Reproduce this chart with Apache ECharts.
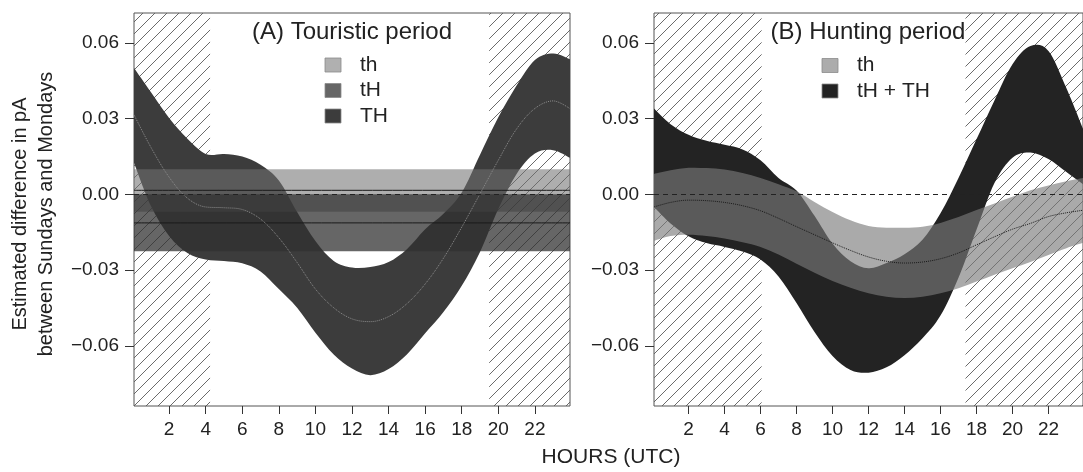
<!DOCTYPE html>
<html>
<head>
<meta charset="utf-8">
<script src="https://cdn.jsdelivr.net/npm/echarts@6/dist/echarts.min.js"></script>
<style>
  html, body { margin: 0; background: #fff; }
  #chart { width: 1083px; height: 472px; }
</style>
</head>
<body>
<div id="chart"></div>
<script>
const hours = [0.08, 1, 2, 3, 4, 5, 6, 7, 8, 9, 10, 11, 12, 13, 14, 15, 16, 17, 18, 19, 20, 21, 22, 23, 23.92]
const xMin = 0.08
const xMax = 23.92
const xTicks = [2, 4, 6, 8, 10, 12, 14, 16, 18, 20, 22]
const yTicks = [-0.06, -0.03, 0, 0.03, 0.06]

// (A) touristic period
const touristTHUpper = [0.050, 0.0405, 0.0302, 0.0220, 0.0160, 0.0160, 0.0150, 0.0117, 0.0055, -0.0070, -0.0185, -0.0264, -0.0290, -0.0288, -0.0268, -0.0217, -0.0138, -0.0077, 0.0007, 0.0157, 0.0305, 0.0431, 0.0532, 0.0558, 0.0535]
const touristTHLower = [0.0125, -0.0045, -0.0165, -0.0232, -0.0258, -0.0264, -0.0273, -0.0305, -0.0375, -0.0449, -0.0548, -0.0634, -0.0690, -0.0716, -0.0692, -0.0634, -0.0550, -0.0466, -0.0362, -0.0228, -0.0058, 0.0081, 0.0162, 0.0175, 0.0145]
const touristTHFit = [0.0315, 0.0187, 0.0068, -0.0015, -0.0050, -0.0053, -0.0060, -0.0098, -0.0172, -0.0270, -0.0375, -0.0449, -0.0493, -0.0504, -0.0484, -0.0433, -0.0355, -0.0253, -0.0130, 0.0002, 0.0135, 0.0259, 0.0340, 0.0370, 0.0339]
// constant effects: [upper, fit, lower]
const touristTh = [0.0099, 0.0016, -0.0069]
const touristTH2 = [0.0000, -0.0113, -0.0225]
const nightA = [[0.08, 4.24], [19.5, 23.92]]

// (B) hunting period
const huntTHUpper = [0.0340, 0.0278, 0.0236, 0.0212, 0.0196, 0.0178, 0.0135, 0.0065, 0.0015, -0.0085, -0.0195, -0.0265, -0.0293, -0.0272, -0.0237, -0.0180, -0.0075, 0.0065, 0.0218, 0.0372, 0.0515, 0.0587, 0.0568, 0.0420, 0.0260]
const huntTHLower = [-0.0050, -0.0115, -0.0166, -0.0193, -0.0208, -0.0226, -0.0258, -0.0325, -0.0430, -0.0545, -0.0640, -0.0695, -0.0706, -0.0685, -0.0637, -0.0570, -0.0480, -0.0330, -0.0140, 0.0045, 0.0145, 0.0166, 0.0140, 0.0088, 0.0040]
const huntThUpper = [0.0081, 0.0095, 0.0105, 0.0104, 0.0098, 0.0085, 0.0065, 0.0040, 0.0012, -0.0030, -0.0070, -0.0103, -0.0125, -0.0132, -0.0132, -0.0128, -0.0113, -0.0090, -0.0062, -0.0036, -0.0010, 0.0016, 0.0035, 0.0052, 0.0065]
const huntThLower = [-0.0184, -0.0165, -0.0160, -0.0165, -0.0175, -0.0190, -0.0208, -0.0238, -0.0275, -0.0310, -0.0343, -0.0370, -0.0392, -0.0405, -0.0410, -0.0405, -0.0392, -0.0372, -0.0345, -0.0318, -0.0293, -0.0268, -0.0240, -0.0213, -0.0192]
const huntThFit = [-0.0050, -0.0032, -0.0023, -0.0025, -0.0032, -0.0045, -0.0065, -0.0095, -0.0128, -0.0160, -0.0192, -0.0222, -0.0248, -0.0265, -0.0272, -0.0268, -0.0255, -0.0232, -0.0200, -0.0168, -0.0138, -0.0115, -0.0088, -0.0073, -0.0063]
const nightB = [[0.08, 6.06], [17.39, 23.92]]

const font = "'Liberation Sans', Arial, sans-serif"

function makeHatch() {
  const c = document.createElement("canvas")
  c.width = 12
  c.height = 12
  const ctx = c.getContext("2d")
  ctx.strokeStyle = "#5a5a5a"
  ctx.lineWidth = 0.9
  ctx.beginPath()
  for (const o of [-12, 0, 12]) {
    ctx.moveTo(o, 12)
    ctx.lineTo(o + 12, 0)
  }
  ctx.stroke()
  return c
}
const hatch = { image: makeHatch(), repeat: "repeat" }

function pairs(xs, ys) {
  return xs.map((x, i) => [x, ys[i]])
}

// catmull-rom through pixel points, as svg path segments (no leading M)
function curve(pts) {
  let d = ""
  for (let i = 0; i < pts.length - 1; i++) {
    const p0 = pts[Math.max(i - 1, 0)]
    const p1 = pts[i]
    const p2 = pts[i + 1]
    const p3 = pts[Math.min(i + 2, pts.length - 1)]
    const c1 = [p1[0] + (p2[0] - p0[0]) / 6, p1[1] + (p2[1] - p0[1]) / 6]
    const c2 = [p2[0] - (p3[0] - p1[0]) / 6, p2[1] - (p3[1] - p1[1]) / 6]
    d += " C" + c1[0] + "," + c1[1] + " " + c2[0] + "," + c2[1] + " " + p2[0] + "," + p2[1]
  }
  return d
}

// filled confidence band between lower and upper
function band(grid, xs, lower, upper, color) {
  return {
    type: "custom",
    xAxisIndex: grid,
    yAxisIndex: grid,
    silent: true,
    clip: true,
    animation: false,
    data: [[xs[0], lower[0]]],
    renderItem: (params, api) => {
      const top = xs.map((x, i) => api.coord([x, upper[i]]))
      const bot = xs.map((x, i) => api.coord([x, lower[i]])).reverse()
      const d = "M" + top[0][0] + "," + top[0][1] + curve(top) +
        " L" + bot[0][0] + "," + bot[0][1] + curve(bot) + " Z"
      return { type: "path", shape: { pathData: d }, style: { fill: color } }
    }
  }
}

function fitLine(grid, xs, ys, color, type) {
  return {
    type: "line",
    xAxisIndex: grid,
    yAxisIndex: grid,
    data: pairs(xs, ys),
    smooth: 0.35,
    symbol: "none",
    silent: true,
    animation: false,
    lineStyle: { color: color, width: 1, type: type }
  }
}

function withMarkers(s, night) {
  s.markArea = {
    silent: true,
    itemStyle: { color: hatch },
    label: { show: false },
    data: night.map((r) => [{ xAxis: r[0] }, { xAxis: r[1] }])
  }
  s.markLine = {
    silent: true,
    symbol: "none",
    label: { show: false },
    lineStyle: { color: "#222", width: 1, type: [5, 4] },
    data: [{ yAxis: 0 }]
  }
  return s
}

const flatX = [xMin, xMax]
const flat = (v) => [v, v]

const series = [
  band(0, hours, touristTHLower, touristTHUpper, "#3c3c3c"),
  band(0, flatX, flat(touristTh[2]), flat(touristTh[0]), "rgba(113,113,113,0.57)"),
  band(0, flatX, flat(touristTH2[2]), flat(touristTH2[0]), "rgba(48,48,48,0.74)"),
  withMarkers(fitLine(0, flatX, flat(touristTh[1]), "#1a1a1a", "solid"), nightA),
  fitLine(0, flatX, flat(touristTH2[1]), "#1a1a1a", "solid"),
  fitLine(0, hours, touristTHFit, "#8c8c8c", "dotted"),

  band(1, hours, huntTHLower, huntTHUpper, "#232323"),
  band(1, hours, huntThLower, huntThUpper, "rgba(122,122,122,0.64)"),
  withMarkers(fitLine(1, hours, huntThFit, "#1a1a1a", "dotted"), nightB)
]

function xAxis(grid) {
  return {
    type: "value",
    gridIndex: grid,
    min: xMin,
    max: xMax,
    splitLine: { show: false },
    axisLine: { show: false, onZero: false },
    axisTick: { customValues: xTicks, length: 8, lineStyle: { color: "#333" } },
    axisLabel: { customValues: xTicks, margin: 14, fontSize: 19, color: "#222", fontFamily: font }
  }
}

function yAxis(grid) {
  return {
    type: "value",
    gridIndex: grid,
    min: -0.0838,
    max: 0.0718,
    splitLine: { show: false },
    axisLine: { show: false, onZero: false },
    axisTick: { customValues: yTicks, length: 9, lineStyle: { color: "#333" } },
    axisLabel: {
      customValues: yTicks,
      margin: 15,
      fontSize: 19,
      color: "#222",
      fontFamily: font,
      formatter: (v) => (v < -1e-9 ? "\u2212" : "") + Math.abs(v).toFixed(2)
    }
  }
}

function legend(x, y0, items) {
  const out = []
  items.forEach((it, i) => {
    const y = y0 + i * 25.5
    out.push({
      type: "rect",
      z: 100,
      shape: { x: x, y: y - 7, width: 16, height: 14 },
      style: { fill: it.color, stroke: "#8a8a8a", lineWidth: 0.8 },
      silent: true
    })
    out.push({
      type: "text",
      z: 100,
      x: x + 35,
      y: y,
      style: { text: it.label, fontSize: 21, fontFamily: font, fill: "#222", verticalAlign: "middle" },
      silent: true
    })
  })
  return out
}

const chart = echarts.init(document.getElementById("chart"), null, { renderer: "canvas" })
chart.setOption({
  animation: false,
  backgroundColor: "#fff",
  textStyle: { fontFamily: font },
  grid: [
    { left: 134, top: 13, width: 436, height: 393, show: true, borderColor: "#555", borderWidth: 1, backgroundColor: "transparent" },
    { left: 654, top: 13, width: 437, height: 393, show: true, borderColor: "#555", borderWidth: 1, backgroundColor: "transparent" }
  ],
  xAxis: [xAxis(0), xAxis(1)],
  yAxis: [yAxis(0), yAxis(1)],
  series: series,
  graphic: [
    {
      type: "text", x: 352, y: 32, z: 100, silent: true,
      style: { text: "(A) Touristic period", fontSize: 24, fontFamily: font, fill: "#222", align: "center", verticalAlign: "middle" }
    },
    {
      type: "text", x: 868, y: 32, z: 100, silent: true,
      style: { text: "(B) Hunting period", fontSize: 24, fontFamily: font, fill: "#222", align: "center", verticalAlign: "middle" }
    },
    {
      type: "text", x: 611, y: 457, z: 100, silent: true,
      style: { text: "HOURS (UTC)", fontSize: 21, fontFamily: font, fill: "#222", align: "center", verticalAlign: "middle" }
    },
    {
      type: "text", x: 33, y: 214, z: 100, rotation: Math.PI / 2, silent: true,
      style: {
        text: "Estimated difference in pA\nbetween Sundays and Mondays",
        fontSize: 20, lineHeight: 26, fontFamily: font, fill: "#222", align: "center", verticalAlign: "middle"
      }
    },
    ...legend(325, 65, [
      { label: "th", color: "#b0b0b0" },
      { label: "tH", color: "#666666" },
      { label: "TH", color: "#3c3c3c" }
    ]),
    ...legend(822, 65.5, [
      { label: "th", color: "#acacac" },
      { label: "tH + TH", color: "#232323" }
    ])
  ]
})
</script>
</body>
</html>
